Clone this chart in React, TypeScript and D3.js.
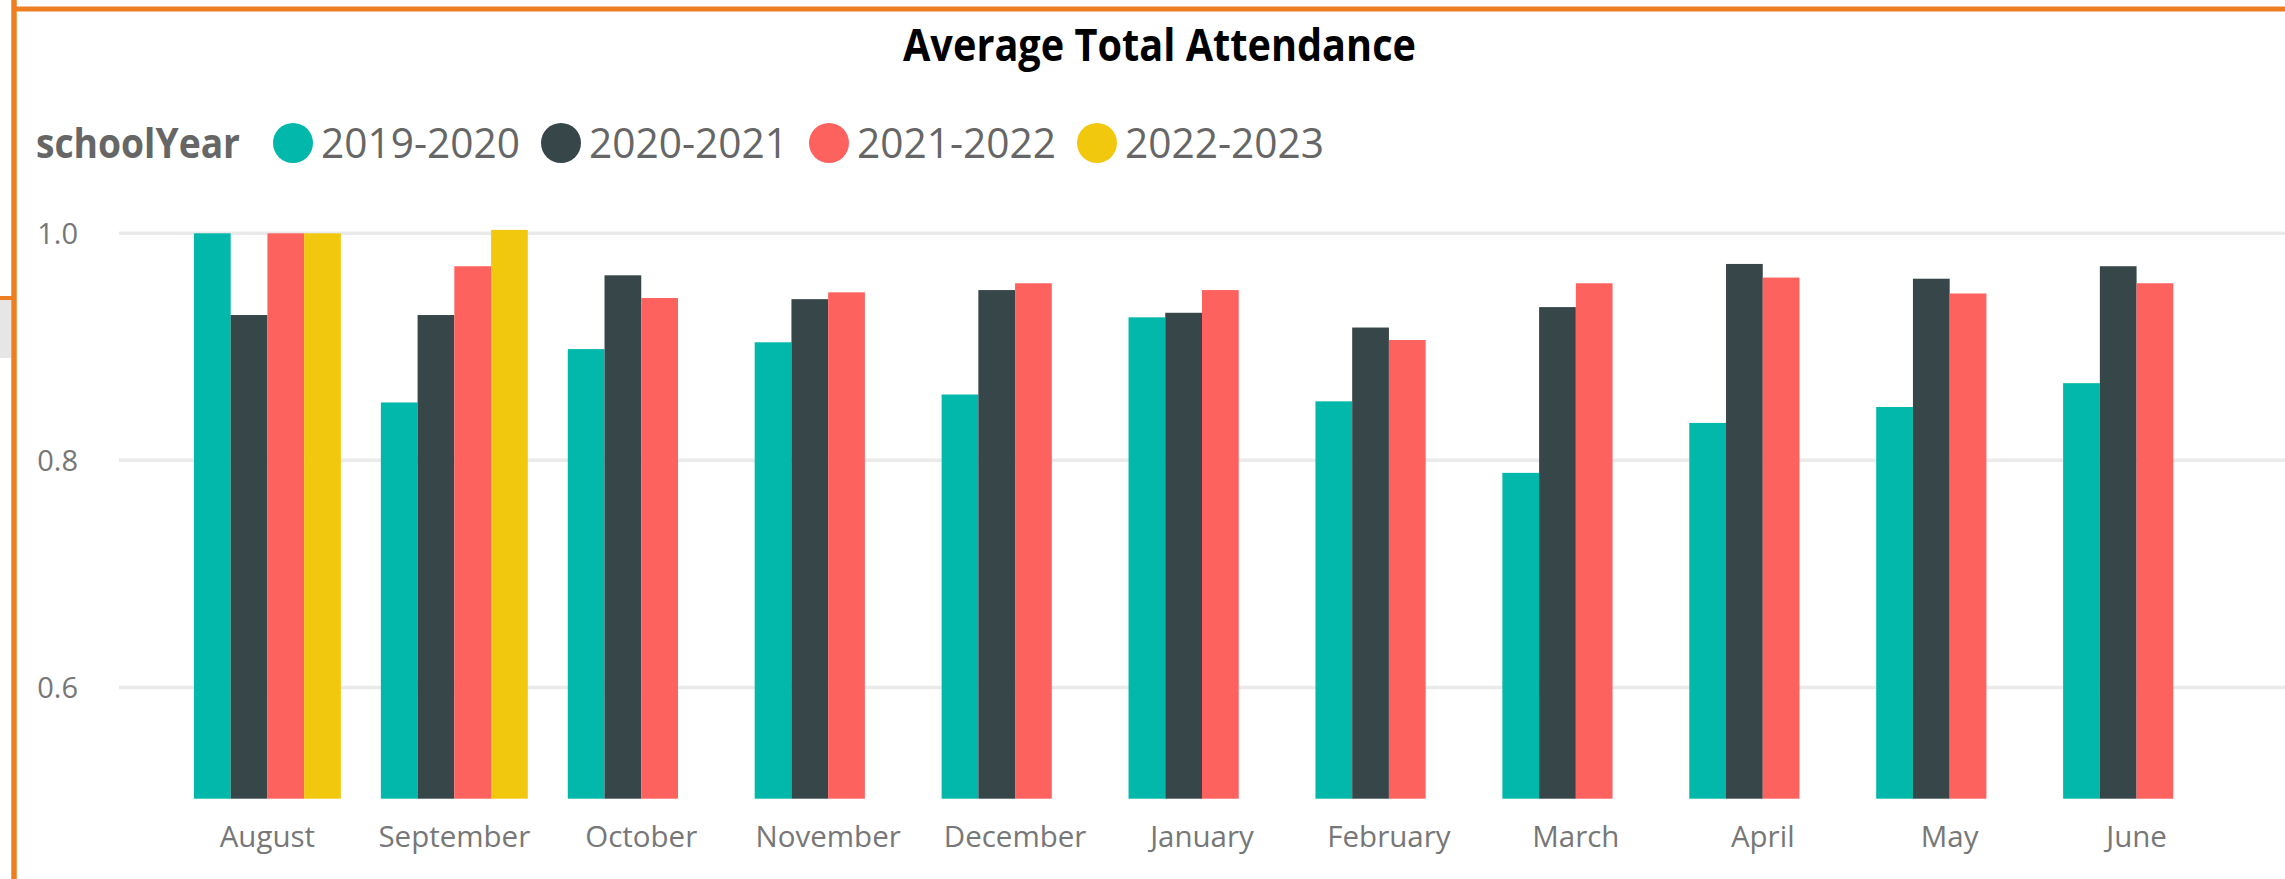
import React from "react";
import * as d3 from "d3";

const months = [
  "August",
  "September",
  "October",
  "November",
  "December",
  "January",
  "February",
  "March",
  "April",
  "May",
  "June",
];
const schoolYears = ["2019-2020", "2020-2021", "2021-2022", "2022-2023"];
const yearColors = ["#01B8AA", "#374649", "#FD625E", "#F2C80F"];

// average total attendance per month, one list per school year
const year2019 = [1.0, 0.851, 0.898, 0.904, 0.858, 0.926, 0.852, 0.789, 0.833, 0.847, 0.868];
const year2020 = [0.928, 0.928, 0.963, 0.942, 0.95, 0.93, 0.917, 0.935, 0.973, 0.96, 0.971];
const year2021 = [1.0, 0.971, 0.943, 0.948, 0.956, 0.95, 0.906, 0.956, 0.961, 0.947, 0.956];
const year2022 = [1.0, 1.003, null, null, null, null, null, null, null, null, null];
const yTicks = [0.6, 0.8, 1.0];
const yMin = 0.502;

const W = 2285;
const H = 879;
const FONT = "'Open Sans', 'Noto Sans', sans-serif";

const App = () => {
  const seriesValues = [year2019, year2020, year2021, year2022];

  const x = d3
    .scaleBand()
    .domain(months)
    .range([119, W])
    .paddingInner(0.214)
    .paddingOuter(0.401);

  const xSub = d3
    .scaleBand()
    .domain(schoolYears)
    .range([0, x.bandwidth()]);

  const y = d3.scaleLinear().domain([yMin, 1.0]).range([798.7, 233.3]);
  const fmt = d3.format(".1f");

  const legendStart = 293;
  const legendStep = 268;

  return (
    <svg
      width={W}
      height={H}
      style={{ position: "absolute", left: 0, top: 0, background: "#fff" }}
      fontFamily={FONT}
    >
      {/* frame bits */}
      <rect x={0} y={300} width={11} height={58} fill="#e6e6e6" />
      <line x1={0} x2={14} y1={298} y2={298} stroke="#ED7F22" strokeWidth={4} />
      <line x1={14} x2={14} y1={0} y2={H} stroke="#ED7F22" strokeWidth={5.5} />
      <line x1={14} x2={W} y1={9} y2={9} stroke="#ED7F22" strokeWidth={5} />

      <text
        x={1159.5}
        y={61}
        textAnchor="middle"
        fontSize={44}
        fontWeight="bold"
        fill="#000"
        textLength={513}
        lengthAdjust="spacingAndGlyphs"
      >
        Average Total Attendance
      </text>

      {/* legend */}
      <g>
        <text
          x={36}
          y={158}
          fontSize={42}
          fontWeight="bold"
          fill="#666666"
          textLength={204}
          lengthAdjust="spacingAndGlyphs"
        >
          schoolYear
        </text>
        {schoolYears.map((s, i) => (
          <g key={s}>
            <circle cx={legendStart + i * legendStep} cy={143} r={20} fill={yearColors[i]} />
            <text
              x={legendStart + i * legendStep + 28}
              y={158}
              fontSize={42}
              fill="#666666"
              textLength={199}
              lengthAdjust="spacingAndGlyphs"
            >
              {s}
            </text>
          </g>
        ))}
      </g>

      {/* gridlines + y labels */}
      {yTicks.map((t) => (
        <g key={t}>
          <line x1={119} x2={W} y1={y(t)} y2={y(t)} stroke="#eaeaea" strokeWidth={3.5} />
          <text
            x={78}
            y={y(t)}
            dy="0.36em"
            textAnchor="end"
            fontSize={29}
            fill="#777777"
          >
            {fmt(t)}
          </text>
        </g>
      ))}

      {/* bars */}
      {months.map((m, mi) => (
        <g key={m} transform={`translate(${x(m)},0)`}>
          {schoolYears.map((s, si) => {
            const v = seriesValues[si][mi];
            if (v == null) return null;
            return (
              <rect
                key={s}
                x={xSub(s)}
                y={y(v)}
                width={xSub.bandwidth()}
                height={y(yMin) - y(v)}
                fill={yearColors[si]}
              />
            );
          })}
        </g>
      ))}

      {/* x labels */}
      {months.map((m) => (
        <text
          key={m}
          x={(x(m) || 0) + x.bandwidth() / 2}
          y={847}
          textAnchor="middle"
          fontSize={29.5}
          fill="#777777"
        >
          {m}
        </text>
      ))}
    </svg>
  );
};

export default App;
